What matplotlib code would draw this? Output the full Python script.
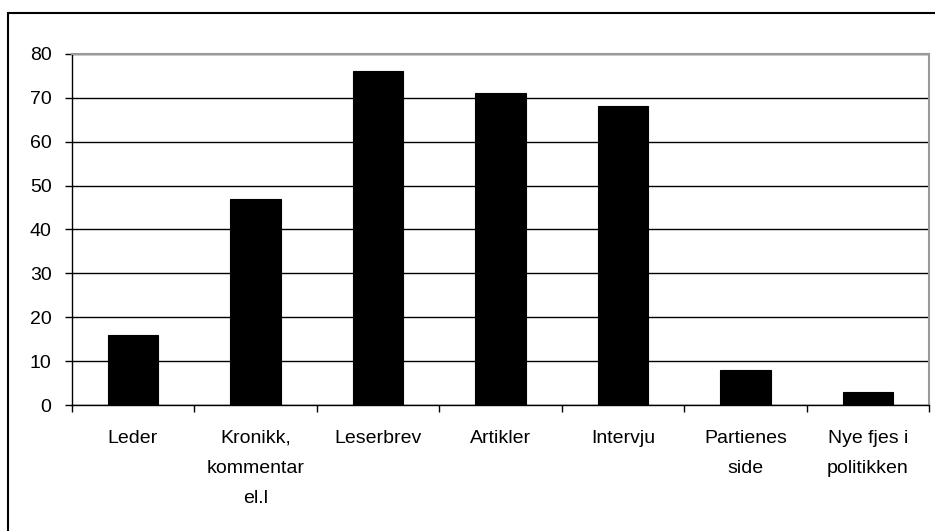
import matplotlib.pyplot as plt
from matplotlib.patches import Rectangle

categories = ["Leder", "Kronikk,\nkommentar\nel.l", "Leserbrev", "Artikler",
              "Intervju", "Partienes\nside", "Nye fjes i\npolitikken"]
values = [16, 47, 76, 71, 68, 8, 3]
yticks = [0, 10, 20, 30, 40, 50, 60, 70, 80]

plt.rcParams["font.family"] = ["Liberation Sans", "DejaVu Sans"]

W, H = 935, 531
fig = plt.figure(figsize=(W / 100, H / 100), dpi=100)
ax = fig.add_axes([71.7 / W, 1 - 405.3 / H, (929.3 - 71.7) / W, (405.3 - 53.7) / H])

x = range(len(categories))
ax.bar(x, values, width=0.41, color="black", edgecolor="black", linewidth=0.8, zorder=3)

ax.set_xlim(-0.5, len(categories) - 0.5)
ax.set_ylim(0, 80)
ax.set_yticks(yticks)
ax.yaxis.grid(True, color="black", linewidth=1.0, zorder=0)

# category separators as major ticks, labels on minor ticks
ax.set_xticks([i + 0.5 for i in range(-1, len(categories))], minor=False)
ax.set_xticklabels([])
ax.set_xticks(list(x), minor=True)
ax.set_xticklabels(categories, minor=True, fontsize=14, linespacing=2.0, va="top")
ax.tick_params(axis="x", which="major", length=5, width=1, color="black", direction="out")
ax.tick_params(axis="x", which="minor", length=0, pad=17.5)
ax.tick_params(axis="y", length=5, width=1, direction="out", labelsize=14, pad=9.5)

for s in ["left", "bottom"]:
    ax.spines[s].set_color("black")
    ax.spines[s].set_linewidth(1.0)
for s in ["top", "right"]:
    ax.spines[s].set_color("#9a9a9a")
    ax.spines[s].set_linewidth(1.5)

# outer chart frame
fig.patches.append(Rectangle((8 / W, -0.01), 1.0, 1 - 13 / H + 0.01,
                             transform=fig.transFigure, fill=False,
                             edgecolor="black", linewidth=1.5))

fig.savefig("out.png", dpi=100)
